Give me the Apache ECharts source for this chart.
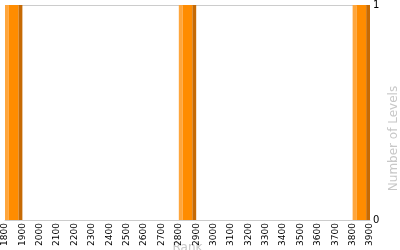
<!DOCTYPE html>
<html>
<head>
<meta charset="utf-8">
<script src="https://cdn.jsdelivr.net/npm/echarts@6/dist/echarts.min.js"></script>
<style>html,body{margin:0;padding:0;background:#fff}#c{width:400px;height:250px}</style>
</head>
<body>
<div id="c"></div>
<script>
var binStarts = [1800, 2800, 3800];
var binEnds = [1900, 2900, 3900];
var counts = [1, 1, 1];
var rankMin = 1800, rankMax = 3900, rankStep = 100;
var levelMin = 0, levelMax = 1;

var data = binStarts.map(function (s, i) { return [s, binEnds[i], counts[i]]; });

var chart = echarts.init(document.getElementById('c'), null, {renderer: 'canvas'});
chart.setOption({
  animation: false,
  backgroundColor: '#fff',
  grid: {left: 5, right: 30, top: 5, bottom: 30, containLabel: false, outerBoundsMode: 'none'},
  xAxis: {
    type: 'value', min: rankMin, max: rankMax, interval: rankStep,
    name: 'Rank', nameLocation: 'middle', nameGap: 22, nameMoveOverlap: false,
    nameTextStyle: {color: '#c8c8c8', fontSize: 12, fontFamily: 'DejaVu Sans'},
    axisLine: {show: true, lineStyle: {color: '#cccccc', width: 1}},
    axisTick: {show: false},
    splitLine: {show: false},
    axisLabel: {rotate: 90, fontSize: 9, color: '#000', fontFamily: 'DejaVu Sans', margin: 3, showMinLabel: true, showMaxLabel: true, hideOverlap: false,
      formatter: function (v) { return String(v); }}
  },
  yAxis: {
    type: 'value', position: 'right', min: levelMin, max: levelMax, interval: 1,
    name: 'Number of Levels', nameLocation: 'middle', nameGap: 18, nameRotate: 90, nameMoveOverlap: false,
    nameTextStyle: {color: '#c8c8c8', fontSize: 12, fontFamily: 'DejaVu Sans', padding: [0, 52, 0, 0]},
    axisLine: {show: false},
    axisTick: {show: false},
    splitLine: {show: true, lineStyle: {color: '#cccccc', width: 1}},
    axisLabel: {fontSize: 10, color: '#000', fontFamily: 'DejaVu Sans', margin: 3}
  },
  series: [{
    type: 'custom',
    data: data,
    encode: {x: [0, 1], y: 2},
    renderItem: function (params, api) {
      var p0 = api.coord([api.value(0), api.value(2)]);
      var p1 = api.coord([api.value(1), 0]);
      var x0 = p0[0], x1 = p1[0], y0 = p0[1], y1 = p1[1];
      var w = x1 - x0, h = y1 - y0;
      var lw = w * 0.22, dw = w * 0.22;
      return {
        type: 'group',
        children: [
          {type: 'rect', shape: {x: x0, y: y0, width: lw, height: h}, style: {fill: '#FFA63C'}},
          {type: 'rect', shape: {x: x0 + lw, y: y0, width: w - lw - dw, height: h}, style: {fill: '#FF8C00'}},
          {type: 'rect', shape: {x: x1 - dw, y: y0, width: dw, height: h}, style: {fill: '#C66A04'}}
        ]
      };
    }
  }]
});
</script>
</body>
</html>
